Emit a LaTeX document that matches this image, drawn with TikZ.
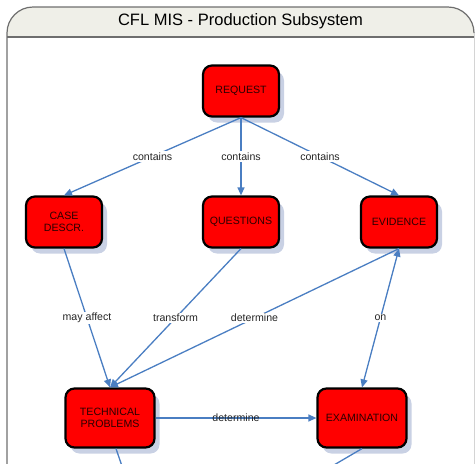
\documentclass[tikz,border=0pt]{standalone}
\usepackage{fontspec}
\setmainfont{Liberation Sans}
\usetikzlibrary{arrows.meta,shadows}

\definecolor{linkblue}{HTML}{4A7EC2}
\definecolor{boxred}{HTML}{FF0000}
\definecolor{boxtext}{HTML}{2A0000}
\definecolor{shadowc}{HTML}{C9D1E4}
\definecolor{headfill}{HTML}{EFEFE8}
\definecolor{framedark}{HTML}{6E6E6E}
\definecolor{framelight}{HTML}{D4D4D4}

\tikzset{
  concept/.style={draw=black, line width=2.2pt, fill=boxred, rounded corners=9pt,
    minimum width=76pt, minimum height=51pt, inner sep=2pt, align=center,
    text=boxtext, font=\fontsize{10.6}{12}\selectfont,
    drop shadow={shadow xshift=5pt, shadow yshift=-6pt, fill=shadowc, opacity=1}},
  wideconcept/.style={concept, minimum width=89pt, minimum height=59pt},
  link/.style={draw=linkblue, line width=1.3pt, -{Triangle[length=8pt,width=7pt]}},
  twoway/.style={link, {Triangle[length=8pt,width=7pt]}-{Triangle[length=8pt,width=7pt]}},
  plain/.style={draw=linkblue, line width=1.3pt},
  lbl/.style={fill=white, inner sep=1.5pt, text=black!85, font=\fontsize{10.6}{12}\selectfont},
  openlbl/.style={lbl, fill=none}
}

\begin{document}
\begin{tikzpicture}[x=1pt, y=-1pt]
  \useasboundingbox (0,0) rectangle (475,464);

  % frame with rounded title bar (y axis points down, so arcs turn through 270)
  \fill[headfill] (7,37) -- (7,33) arc[start angle=180, end angle=270, radius=26] -- (448,7)
    arc[start angle=270, end angle=360, radius=26] -- (474,37) -- cycle;
  \draw[framedark, line width=1.2pt] (7,470) -- (7,33) arc[start angle=180, end angle=270, radius=26] -- (448,7)
    arc[start angle=270, end angle=360, radius=26];
  \draw[framelight, line width=0.9pt] (474,33) -- (474,470);
  \draw[framedark, line width=1.8pt] (7,37) -- (474,37);
  \node (title) at (240.5,21) {\fontsize{16.5}{18}\selectfont CFL MIS - Production Subsystem};

  % concepts
  \node[concept] (request)   at (241,91)  {REQUEST};
  \node[concept] (case)      at (64,222)  {CASE\\DESCR.};
  \node[concept] (questions) at (241,222) {QUESTIONS};
  \node[concept] (evidence)  at (399,222) {EVIDENCE};
  \node[wideconcept] (tech)  at (110,418) {TECHNICAL\\PROBLEMS};
  \node[wideconcept] (exam)  at (362,418) {EXAMINATION};

  % outgoing links continuing below
  \coordinate (techout) at (124,472);
  \coordinate (examout) at (322,472);

  % links
  \draw[link] (request.south) -- node[lbl] {contains} (case.north);
  \draw[link] (request.south) -- node[lbl] {contains} (questions.north);
  \draw[link] (request.south) -- node[lbl] {contains} (evidence.north);
  \draw[link] (case.south) -- node[lbl] {may affect} (tech.north);
  \draw[link] (questions.south) -- node[lbl] {transform} (tech.north);
  \draw[link] (evidence.south) -- node[lbl] {determine} (tech.north);
  \draw[twoway] (exam.north) -- node[lbl] {on} (evidence.south);
  \draw[link] (tech.east) -- node[openlbl] {determine} (exam.west);
  \draw[plain] (tech.south) ++(6,0) -- (techout);
  \draw[plain] (exam.south) -- (examout);
\end{tikzpicture}
\end{document}
